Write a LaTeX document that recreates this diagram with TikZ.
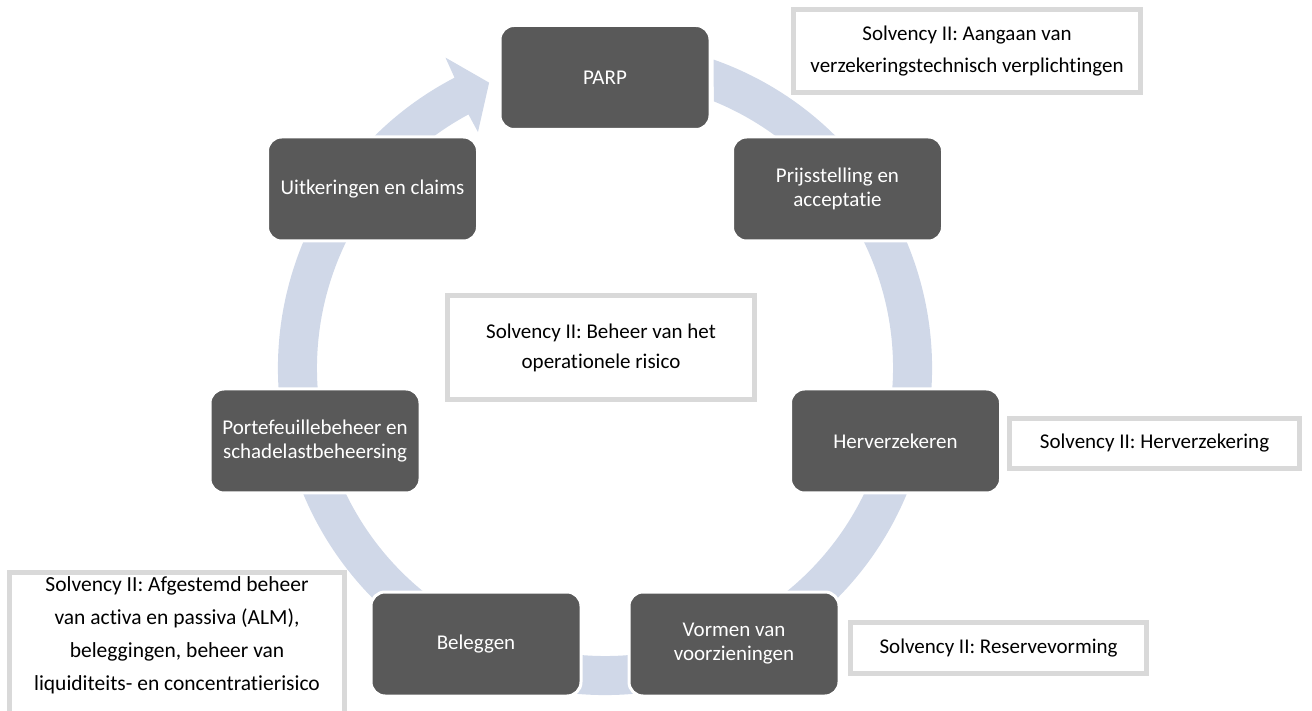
\documentclass[tikz,border=0pt]{standalone}
\usepackage{fontspec}
\setmainfont{Carlito}[Ligatures=NoCommon]
\usepackage{xcolor}
\usepackage{tikz}
\usetikzlibrary{positioning}
\definecolor{ringblue}{HTML}{D0D8E8}
\definecolor{stepgrey}{HTML}{595959}
\definecolor{framegrey}{HTML}{D9D9D9}
\tikzset{
  stage/.style   = {rectangle, rounded corners=14pt, draw=white, fill=stepgrey, line width=3pt,
                    minimum width=210pt, minimum height=104pt, align=center, text=white,
                    font=\fontsize{21}{24}\selectfont},
  sidebox/.style = {rectangle, draw=framegrey, fill=white, line width=5pt, align=center,
                    font=\fontsize{21}{32}\selectfont},
  sidetext/.style = {align=center, font=\fontsize{21.5}{33}\selectfont},
  ring/.style    = {fill=ringblue},
}

\begin{document}
\begin{tikzpicture}[x=1pt, y=1pt]
  \useasboundingbox (0,0) rectangle (1312,710);
  \clip (0,0) rectangle (1312,710);

  % the cycle ring, ending in an arrow at PARP
  \begin{scope}[shift={(605,342)}]
    \fill[ring] (70.6:327pt) arc[start angle=70.6, end angle=-242.6, radius=327pt]
      -- (-242.8:349pt) -- (-247.9:308pt) -- (-241.7:268pt) -- (-241.7:288pt)
      arc[start angle=-241.7, end angle=67.8, radius=288pt] -- cycle;
  \end{scope}

  \node[stage] (parp)   at (605,632.5) {PARP};
  \node[stage] (prijs)  at (837.5,521) {Prijsstelling en\\acceptatie};
  \node[stage] (herv)   at (895.5,269) {Herverzekeren};
  \node[stage] (vormen) at (734,66)    {Vormen van\\voorzieningen};
  \node[stage] (beleg)  at (476,66)    {Beleggen};
  \node[stage] (portf)  at (315,269)   {Portefeuillebeheer en\\schadelastbeheersing};
  \node[stage] (uitk)   at (372.5,521) {Uitkeringen en claims};

  \node[sidebox, minimum width=347pt, minimum height=83pt] (siiaangaan) at (967,659)
    {Solvency II: Aangaan van\\verzekeringstechnisch verplichtingen};
  \node[sidebox, minimum width=290pt, minimum height=50pt] (siiherv) at (1154.5,266.5)
    {Solvency II: Herverzekering};
  \node[sidebox, minimum width=296pt, minimum height=51pt] (siireserve) at (998.5,62)
    {Solvency II: Reservevorming};
  \node[sidebox, minimum width=307pt, minimum height=104pt, font=\fontsize{21}{30}\selectfont] (siiopr) at (601,362)
    {Solvency II: Beheer van het\\operationele risico};
  \node[sidebox, minimum width=335pt, minimum height=160pt] (siialmbox) at (177,57.5) {};
  \node[sidetext] (siialm) at (177,75)
    {Solvency II: Afgestemd beheer\\van activa en passiva (ALM),\\beleggingen, beheer van\\liquiditeits- en concentratierisico};
\end{tikzpicture}
\end{document}
